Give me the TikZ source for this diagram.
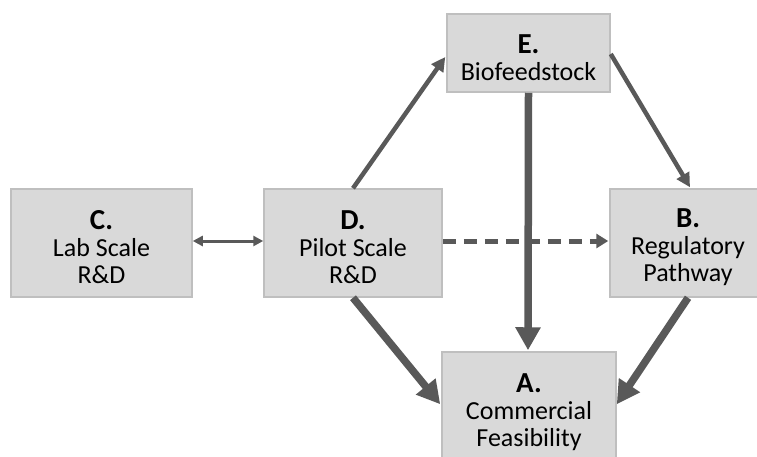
\documentclass[tikz,border=0pt]{standalone}
\usepackage{fontspec}
\setmainfont{Carlito}
\usetikzlibrary{arrows.meta,calc}
\definecolor{boxfill}{HTML}{D9D9D9}
\definecolor{boxline}{HTML}{BFBFBF}
\definecolor{arr}{HTML}{595959}
\newcommand{\hd}[1]{{\fontsize{29}{30}\selectfont\bfseries #1}}
\newcommand{\hdlow}[1]{\rule{0pt}{28pt}{\fontsize{29}{30}\selectfont\bfseries #1}}
\tikzset{
  box/.style={draw=boxline, line width=1.5pt, fill=boxfill, align=center, inner sep=0pt,
    font=\fontsize{26}{27}\selectfont},
  thinarr/.style={draw=arr, line width=3pt, {Triangle[length=10pt,width=10pt]}-{Triangle[length=10pt,width=10pt]}},
  midarr/.style={draw=arr, line width=4.5pt, -{Triangle[length=14pt,width=14pt]}},
  fatarr/.style={draw=arr, line width=7.5pt, -{Triangle[length=23pt,width=24pt]}},
  dasharr/.style={draw=arr, line width=5pt, dash pattern=on 13pt off 8pt, -{Triangle[length=12pt,width=14pt]}}
}
\begin{document}
\begin{tikzpicture}[x=1pt,y=-1pt]
\useasboundingbox (0,0) rectangle (757,456);
\clip (0,0) rectangle (757,456);
\node[box, minimum width=181pt, minimum height=108pt] (C) at (101.5,243) {\hdlow{C.}\\Lab Scale\\R\&D};
\node[box, minimum width=178pt, minimum height=108pt] (D) at (353,243) {\hdlow{D.}\\Pilot Scale\\R\&D};
\node[box, minimum width=156pt, minimum height=108pt] (B) at (688,243) {\hdlow{B.}\\Regulatory\\Pathway};
\node[box, minimum width=163pt, minimum height=78pt] (E) at (528.5,53) {\hdlow{E.}\\Biofeedstock};
\node[box, minimum width=174pt, minimum height=120pt] (A) at (529,412) {\hd{A.}\\Commercial\\Feasibility};
\draw[thinarr] ($(C.east)+(0,-2)$) -- ($(D.west)+(0,-2)$);
\draw[dasharr] ($(D.east)+(0,-2)$) -- ($(B.west)+(-1,-2)$);
\draw[midarr] (D.north) -- ($(E.west)+(-1,4)$);
\draw[midarr] ($(E.east)+(0,1)$) -- ($(B.north)+(2,-1)$);
\draw[fatarr] (E.south) -- ($(A.north)+(-1,-1)$);
\draw[fatarr] (D.south) -- ($(A.north west)+(-1,53)$);
\draw[fatarr] (B.south) -- ($(A.north east)+(0,53)$);
\end{tikzpicture}
\end{document}
